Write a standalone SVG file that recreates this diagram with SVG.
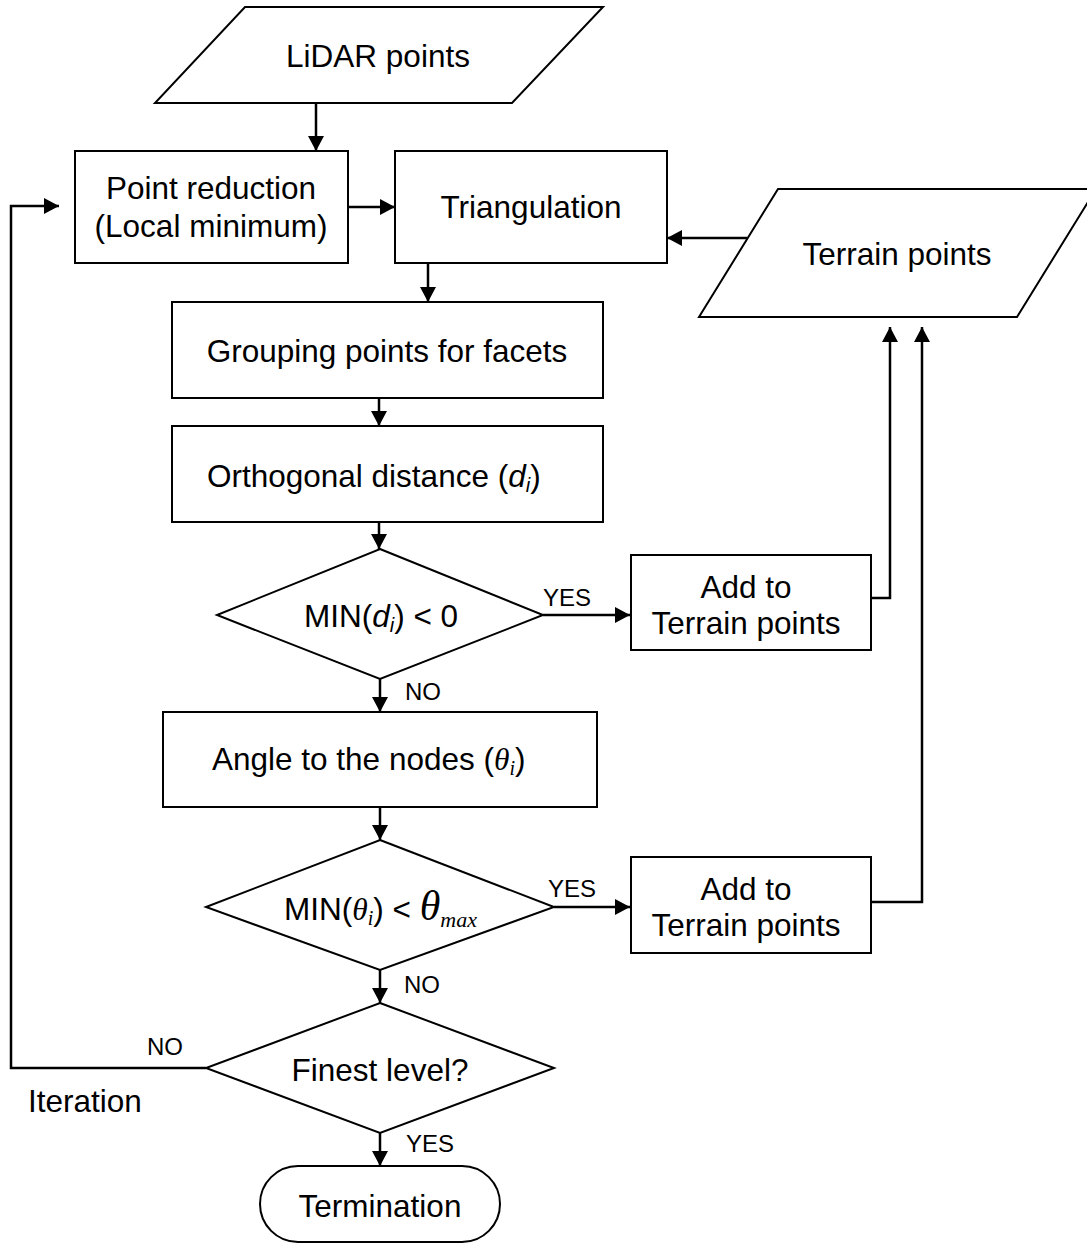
<svg xmlns="http://www.w3.org/2000/svg" width="1087" height="1245" viewBox="0 0 1087 1245">
<style>
.shape{fill:#fff;stroke:#000;stroke-width:2}
.conn{fill:none;stroke:#000;stroke-width:2.5}
.t{font-family:"Liberation Sans",Arial,sans-serif;font-size:31.5px;fill:#000}
.c{text-anchor:middle}
.lbl{font-family:"Liberation Sans",Arial,sans-serif;font-size:24px;fill:#000}
.it{font-style:italic}
.gr{font-family:"Liberation Serif","Times New Roman",serif;font-style:italic}
</style>
<defs>
<marker id="ah" markerUnits="userSpaceOnUse" markerWidth="16" markerHeight="16" refX="15" refY="8" orient="auto">
<path d="M0,0 L15,8 L0,16 z" fill="#000"/>
</marker>
</defs>
<rect width="1087" height="1245" fill="#fff"/>

<g id="connectors">
<line class="conn" x1="316" y1="103" x2="316" y2="151" marker-end="url(#ah)"/>
<line class="conn" x1="348" y1="207" x2="395" y2="207" marker-end="url(#ah)"/>
<line class="conn" x1="747" y1="238" x2="667" y2="238" marker-end="url(#ah)"/>
<line class="conn" x1="428" y1="263" x2="428" y2="302" marker-end="url(#ah)"/>
<line class="conn" x1="379" y1="398" x2="379" y2="426" marker-end="url(#ah)"/>
<line class="conn" x1="379" y1="522" x2="379" y2="549" marker-end="url(#ah)"/>
<line class="conn" x1="543" y1="615" x2="630" y2="615" marker-end="url(#ah)"/>
<line class="conn" x1="380" y1="679" x2="380" y2="712" marker-end="url(#ah)"/>
<line class="conn" x1="380" y1="807" x2="380" y2="840" marker-end="url(#ah)"/>
<line class="conn" x1="554" y1="907" x2="630" y2="907" marker-end="url(#ah)"/>
<line class="conn" x1="380" y1="970" x2="380" y2="1003" marker-end="url(#ah)"/>
<line class="conn" x1="380" y1="1133" x2="380" y2="1166" marker-end="url(#ah)"/>
<polyline class="conn" points="871,598 890,598 890,327" marker-end="url(#ah)"/>
<polyline class="conn" points="871,902 922,902 922,327" marker-end="url(#ah)"/>
<polyline class="conn" points="206,1068 11,1068 11,206 59,206" marker-end="url(#ah)"/>
<text class="lbl" x="543" y="606">YES</text>
<text class="lbl" x="405" y="700">NO</text>
<text class="lbl" x="548" y="897">YES</text>
<text class="lbl" x="404" y="993">NO</text>
<text class="lbl" x="147" y="1055">NO</text>
<text class="lbl" x="406" y="1152">YES</text>
<text class="t" x="28" y="1112">Iteration</text>
</g>

<g id="lidar">
<polygon class="shape" points="245,7 603,7 512,103 155,103"/>
<text class="t c" x="378" y="67">LiDAR points</text>
</g>
<g id="reduction">
<rect class="shape" x="75" y="151" width="273" height="112"/>
<text class="t c" x="211" y="199">Point reduction</text>
<text class="t c" x="211" y="237">(Local minimum)</text>
</g>
<g id="triangulation">
<rect class="shape" x="395" y="151" width="272" height="112"/>
<text class="t c" x="531" y="218">Triangulation</text>
</g>
<g id="terrain">
<polygon class="shape" points="778,189 1096,189 1017,317 699,317"/>
<text class="t c" x="897" y="265">Terrain points</text>
</g>
<g id="grouping">
<rect class="shape" x="172" y="302" width="431" height="96"/>
<text class="t c" x="387" y="362">Grouping points for facets</text>
</g>
<g id="orthogonal">
<rect class="shape" x="172" y="426" width="431" height="96"/>
<text class="t" x="207" y="487">Orthogonal distance (<tspan class="it">d</tspan><tspan class="it" font-size="20" dy="5">i</tspan><tspan dy="-5">)</tspan></text>
</g>
<g id="decision-d">
<polygon class="shape" points="380,549 543,615 380,679 217,615"/>
<text class="t" x="304" y="627">MIN(<tspan class="it">d</tspan><tspan class="it" font-size="20" dy="5">i</tspan><tspan dy="-5">) &lt; 0</tspan></text>
</g>
<g id="add1">
<rect class="shape" x="631" y="555" width="240" height="95"/>
<text class="t c" x="746" y="598">Add to</text>
<text class="t c" x="746" y="634">Terrain points</text>
</g>
<g id="angle">
<rect class="shape" x="163" y="712" width="434" height="95"/>
<text class="t" x="212" y="770">Angle to the nodes (<tspan class="gr">θ</tspan><tspan class="gr" font-size="20" dy="5">i</tspan><tspan dy="-5">)</tspan></text>
</g>
<g id="decision-theta">
<polygon class="shape" points="380,840 554,907 380,970 206,907"/>
<text class="t" x="284" y="920">MIN(<tspan class="gr">θ</tspan><tspan class="gr" font-size="20" dy="5">i</tspan><tspan dy="-5">) &lt; </tspan><tspan class="gr" font-size="42">θ</tspan><tspan class="gr" font-size="22" dy="7">max</tspan></text>
</g>
<g id="add2">
<rect class="shape" x="631" y="857" width="240" height="96"/>
<text class="t c" x="746" y="900">Add to</text>
<text class="t c" x="746" y="936">Terrain points</text>
</g>
<g id="finest">
<polygon class="shape" points="380,1003 554,1068 380,1133 206,1068"/>
<text class="t c" x="380" y="1081">Finest level?</text>
</g>
<g id="termination">
<rect class="shape" x="260" y="1166" width="240" height="76" rx="38" ry="38"/>
<text class="t c" x="380" y="1217">Termination</text>
</g>
</svg>
